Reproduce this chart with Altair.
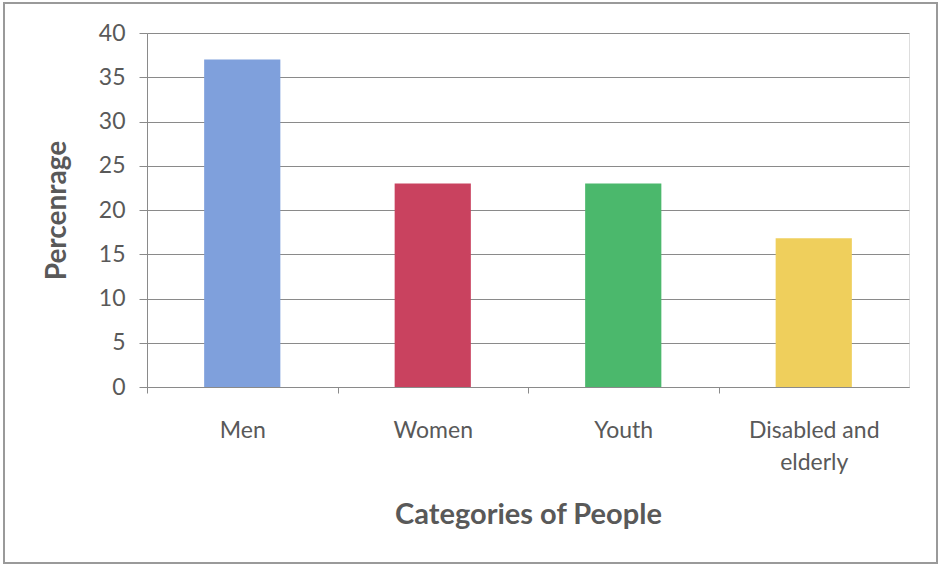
import altair as alt
import pandas as pd

categories = ["Men", "Women", "Youth", "Disabled and elderly"]
values = [37, 23, 23, 16.8]
colors = ["#7fa0dc", "#c9425f", "#4bb86c", "#efcf5c"]

df = pd.DataFrame({"cat": categories, "val": values, "color": colors})

FONT = "Lato"
GRAY = "#595959"

bars = alt.Chart(df).mark_bar().encode(
    x=alt.X("cat:N", sort=categories,
            scale=alt.Scale(paddingInner=0.6, paddingOuter=0.3),
            axis=alt.Axis(title="Categories of People", labelAngle=0,
                          labelExpr="datum.label == 'Disabled and elderly' ? ['Disabled and', 'elderly'] : datum.label",
                          labelFont=FONT, labelFontSize=23, labelColor=GRAY,
                          labelLineHeight=32, labelPadding=26,
                          labelOffset=95.25,
                          titleFont=FONT, titleFontSize=29, titleFontWeight="bold",
                          titleColor=GRAY, titlePadding=26,
                          tickOffset=-95.25, tickSize=6, tickColor="#8a8a8a",
                          domainColor="#8a8a8a", grid=False)),
    y=alt.Y("val:Q", scale=alt.Scale(domain=[0, 40]),
            axis=alt.Axis(title="Percenrage", values=list(range(0, 41, 5)),
                          labelFont=FONT, labelFontSize=23, labelColor=GRAY,
                          labelPadding=14,
                          titleFont=FONT, titleFontSize=28, titleFontWeight="bold",
                          titleColor=GRAY, titlePadding=27,
                          tickSize=8, tickColor="#8a8a8a",
                          domainColor="#8a8a8a",
                          grid=True, gridColor="#8a8a8a", gridWidth=1)),
    color=alt.Color("color:N", scale=None),
)

frame = alt.Chart(df).mark_rect(fill=None, stroke="#9a9a9a", strokeWidth=2).encode(
    x=alt.value(-143), x2=alt.value(790), y=alt.value(-30), y2=alt.value(530)
)

chart = alt.layer(frame, bars).properties(
    width=762, height=354,
    autosize=alt.AutoSizeParams(type="none"),
    padding={"left": 147, "top": 33, "right": 30, "bottom": 179},
).configure_view(stroke=None).configure(background="white")

chart.save("out.html", embed_options={"renderer": "svg", "actions": False})
